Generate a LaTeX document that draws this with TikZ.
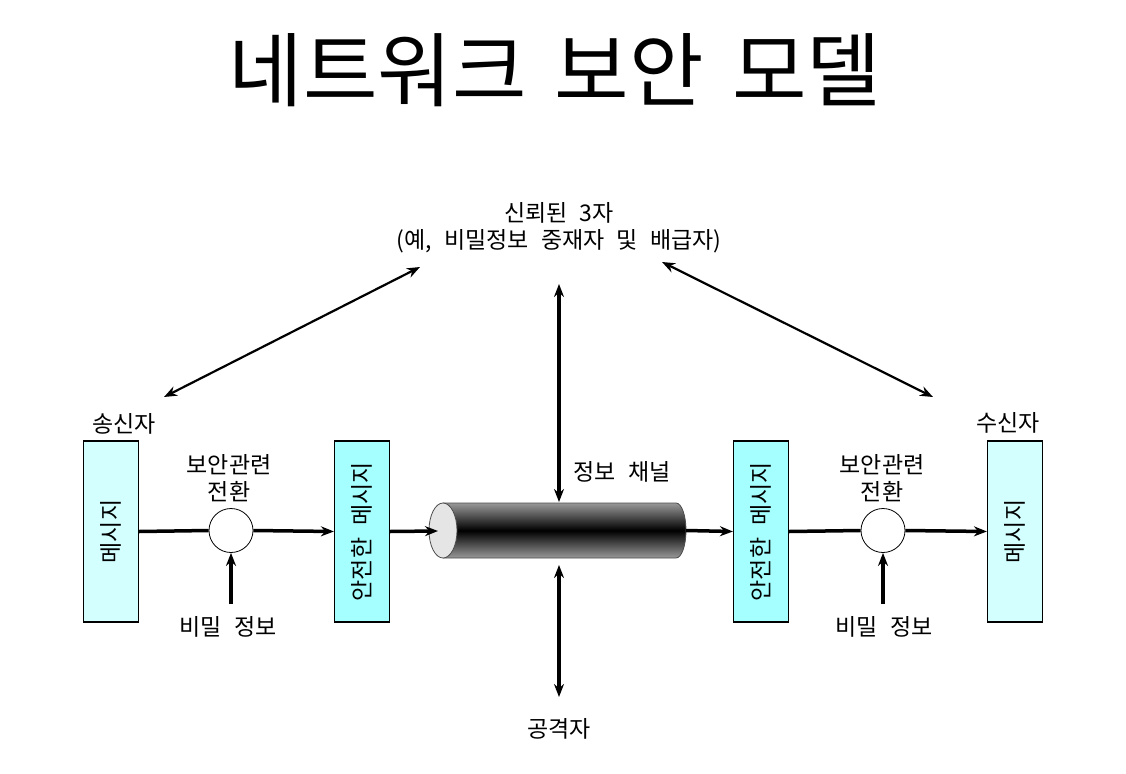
\documentclass[tikz,border=0pt]{standalone}
\usepackage{fontspec}
\setmainfont[WordSpace=2.4]{Noto Sans CJK KR}
\usetikzlibrary{arrows.meta}
\definecolor{msgfill}{RGB}{212,255,255}
\definecolor{smsgfill}{RGB}{166,255,255}
\begin{document}
\begin{tikzpicture}[x=1pt,y=-1pt,
  msg/.style={draw=black, line width=1.2pt, fill=msgfill, minimum width=55pt, minimum height=181pt, inner sep=0pt, font=\fontsize{23}{27}\selectfont},
  smsg/.style={msg, fill=smsgfill},
  xform/.style={circle, draw=black, line width=0.8pt, fill=white, minimum size=44pt, inner sep=0pt},
  lbl/.style={font=\fontsize{23}{27}\selectfont, align=center, inner sep=0pt},
  mainline/.style={line width=3.5pt},
  mainarrow/.style={line width=3.5pt, -{Stealth[length=13pt,width=10pt]}},
  dblthick/.style={line width=3.5pt, {Stealth[length=13pt,width=10pt]}-{Stealth[length=13pt,width=10pt]}},
  dblthin/.style={line width=2.2pt, {Stealth[length=13pt,width=10pt]}-{Stealth[length=13pt,width=10pt]}}
]
\useasboundingbox (0,0) rectangle (1126,773);

% title
\node[font=\fontsize{81}{86}\selectfont, inner sep=0pt] (title) at (555,70) {네트워크\hspace{28pt}보안\hspace{28pt}모델};

% trusted third party
\node[lbl] (trust) at (559,228) {신뢰된 3자\\(예, 비밀정보 중재자 및 배급자)};

% boxes
\node[msg] (m1) at (111,531.5) {\rotatebox{90}{메시지}};
\node[smsg] (s1) at (362,531.5) {\rotatebox{90}{안전한 메시지}};
\node[smsg] (s2) at (761,531.5) {\rotatebox{90}{안전한 메시지}};
\node[msg] (m2) at (1015,531.5) {\rotatebox{90}{메시지}};

\node[lbl] (sender) at (124,424) {송신자};
\node[lbl] (receiver) at (1008,423) {수신자};

% transformations
\node[xform] (c1) at (231,530.5) {};
\node[xform] (c2) at (883,530.5) {};
\node[lbl] (t1) at (229,478) {보안관련\\전환};
\node[lbl] (t2) at (882,478) {보안관련\\전환};
\node[lbl] (k1) at (228,627) {비밀 정보};
\node[lbl] (k2) at (884,627) {비밀 정보};
\coordinate (k1top) at (231,604);
\coordinate (k2top) at (883,604);

% channel cylinder
\node[minimum width=257pt, minimum height=55pt, inner sep=0pt] (chan) at (557.5,530.5) {};
\shade[top color=black!40, bottom color=black!40, middle color=black]
  (443,503) -- (676,503) arc[start angle=-90, end angle=90, x radius=10, y radius=27.5] -- (443,558) -- cycle;
\draw[line width=0.8pt, black!70]
  (443,503) -- (676,503) arc[start angle=-90, end angle=90, x radius=10, y radius=27.5] -- (443,558);
\draw[line width=0.8pt, black!70, fill=black!10] (443,530.5) ellipse[x radius=14, y radius=27.5];
\coordinate (cin) at (438,531);
\node[lbl] (chlabel) at (622,472) {정보 채널};
\node[lbl] (attacker) at (559,729) {공격자};

% connectors
\draw[mainline] (m1.east) -- (c1.west);
\draw[mainarrow] (c1.east) -- (s1.west);
\draw[mainarrow] (s1.east) -- (cin);
\draw[mainarrow] (chan.east) -- (s2.west);
\draw[mainline] (s2.east) -- (c2.west);
\draw[mainarrow] (c2.east) -- (m2.west);
\draw[mainarrow] (k1top) -- (c1.south);
\draw[mainarrow] (k2top) -- (c2.south);

\coordinate (vtop) at (559,284);
\coordinate (vchanTop) at (559,502);
\coordinate (vchanBot) at (559,565);
\coordinate (vbot) at (559,697);
\draw[dblthick] (vtop) -- (vchanTop);
\draw[dblthick] (vchanBot) -- (vbot);

\coordinate (dl1) at (420,267);
\coordinate (dl2) at (164,397);
\coordinate (dr1) at (662,262);
\coordinate (dr2) at (933,397);
\draw[dblthin] (dl1) -- (dl2);
\draw[dblthin] (dr1) -- (dr2);
\end{tikzpicture}
\end{document}
